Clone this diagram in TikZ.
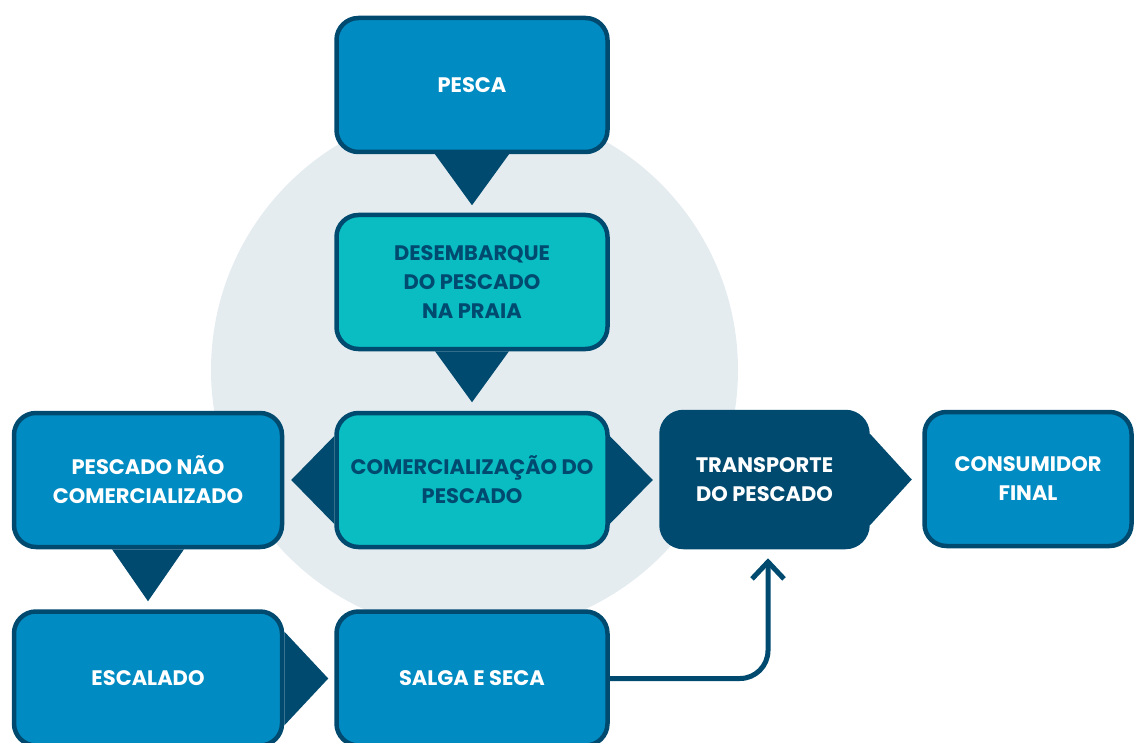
\documentclass[tikz,border=0pt]{standalone}
\usepackage{fontspec}
\setmainfont{Poppins}
\usetikzlibrary{calc,arrows.meta}
\definecolor{dk}{HTML}{004A70}
\definecolor{bl}{HTML}{008CC2}
\definecolor{tl}{HTML}{0ABDC2}
\definecolor{gr}{HTML}{E5ECF0}
\tikzset{
  box/.style={rectangle, rounded corners=22pt, draw=dk, line width=4.5pt,
    minimum width=271pt, minimum height=134pt, align=center, inner sep=0pt,
    font=\fontsize{21}{29}\selectfont\bfseries},
  bluebox/.style={box, fill=bl, text=white},
  tealbox/.style={box, fill=tl, text=dk},
  darkbox/.style={box, fill=dk, text=white, minimum width=206pt, minimum height=135pt},
  tab/.style={fill=dk},
  flow/.style={draw=dk, line width=5pt, rounded corners=28pt,
    -{Straight Barb[length=17pt,width=32pt,line width=5pt]}}
}
\begin{document}
\begin{tikzpicture}[x=1pt,y=-1pt]
\useasboundingbox (0,0) rectangle (1135,743);
\fill[gr] (474.5,370) circle[radius=263.5pt];
\node[bluebox] (pesca) at (472,85) {PESCA};
\node[tealbox] (desemb) at (472,282) {DESEMBARQUE\\DO PESCADO\\NA PRAIA};
\node[tealbox] (comerc) at (472,480) {COMERCIALIZAÇÃO DO\\PESCADO};
\node[bluebox, minimum width=268pt] (naocom) at (148,480) {PESCADO NÃO\\COMERCIALIZADO};
\node[darkbox] (transp) at (764.5,479.5) {TRANSPORTE\\DO PESCADO};
\node[bluebox, minimum width=207pt] (consum) at (1028,479) {CONSUMIDOR\\FINAL};
\node[bluebox, minimum width=268pt] (escal) at (148,678.5) {ESCALADO};
\node[bluebox] (salga) at (472,678.5) {SALGA E SECA};
% tabs
\fill[tab] ($(pesca.south)+(-37,0)$) -- ($(pesca.south)+(37,0)$) -- ($(pesca.south)+(0,51)$) -- cycle;
\fill[tab] ($(desemb.south)+(-37,0)$) -- ($(desemb.south)+(37,0)$) -- ($(desemb.south)+(0,51)$) -- cycle;
\fill[tab] ($(comerc.west)+(0,-44)$) -- ($(comerc.west)+(0,44)$) -- ($(comerc.west)+(-43,0)$) -- cycle;
\fill[tab] ($(comerc.east)+(0,-44)$) -- ($(comerc.east)+(0,44)$) -- ($(comerc.east)+(43,0)$) -- cycle;
\fill[tab] ($(transp.east)+(0,-46)$) -- ($(transp.east)+(0,46)$) -- ($(transp.east)+(42,0)$) -- cycle;
\fill[tab] ($(naocom.south)+(-36,0)$) -- ($(naocom.south)+(36,0)$) -- ($(naocom.south)+(0,52)$) -- cycle;
\fill[tab] ($(escal.east)+(0,-47)$) -- ($(escal.east)+(0,47)$) -- ($(escal.east)+(44,0)$) -- cycle;
% connector
\draw[flow] (salga.east) -| ($(transp.south)+(3.5,9)$);
\end{tikzpicture}
\end{document}
